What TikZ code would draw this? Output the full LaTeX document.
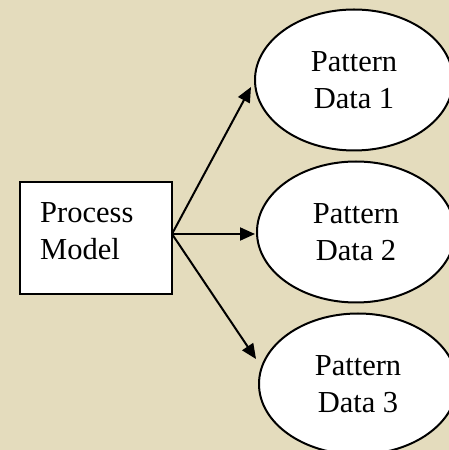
\documentclass[tikz,border=0pt]{standalone}
\usepackage{fontspec}
\setmainfont{Liberation Serif}
\usetikzlibrary{shapes.geometric,arrows.meta}
\definecolor{parch}{RGB}{228,220,189}
\tikzset{
  x=1pt,y=1pt,
  box/.style={draw,line width=2pt,fill=white,minimum width=152pt,minimum height=112pt,inner sep=0pt},
  oval/.style={ellipse,draw,line width=2pt,fill=white,minimum width=198pt,minimum height=141pt,inner sep=0pt,align=center,font=\fontsize{30.5}{37}\selectfont},
  lbl/.style={align=left,inner sep=0pt,font=\fontsize{30.5}{37}\selectfont},
  conn/.style={line width=2pt,-{Triangle[length=15pt,width=13pt]}}
}
\begin{document}
\begin{tikzpicture}
\fill[parch] (0,0) rectangle (449,450);
\useasboundingbox (0,0) rectangle (449,450);
\node[box] (pm) at (96,212) {};
\node[lbl,anchor=north west] (pmtext) at (40,248) {Process\\Model};
\node[oval] (p1) at (354,370) {Pattern\\Data 1};
\node[oval] (p2) at (356,218) {Pattern\\Data 2};
\node[oval] (p3) at (358,66) {Pattern\\Data 3};
\coordinate (src) at (172,216);
\coordinate (t1) at (251,363);
\coordinate (t2) at (255,216);
\coordinate (t3) at (256,91);
\draw[conn] (src) -- (t1);
\draw[conn] (src) -- (t2);
\draw[conn] (src) -- (t3);
\end{tikzpicture}
\end{document}
